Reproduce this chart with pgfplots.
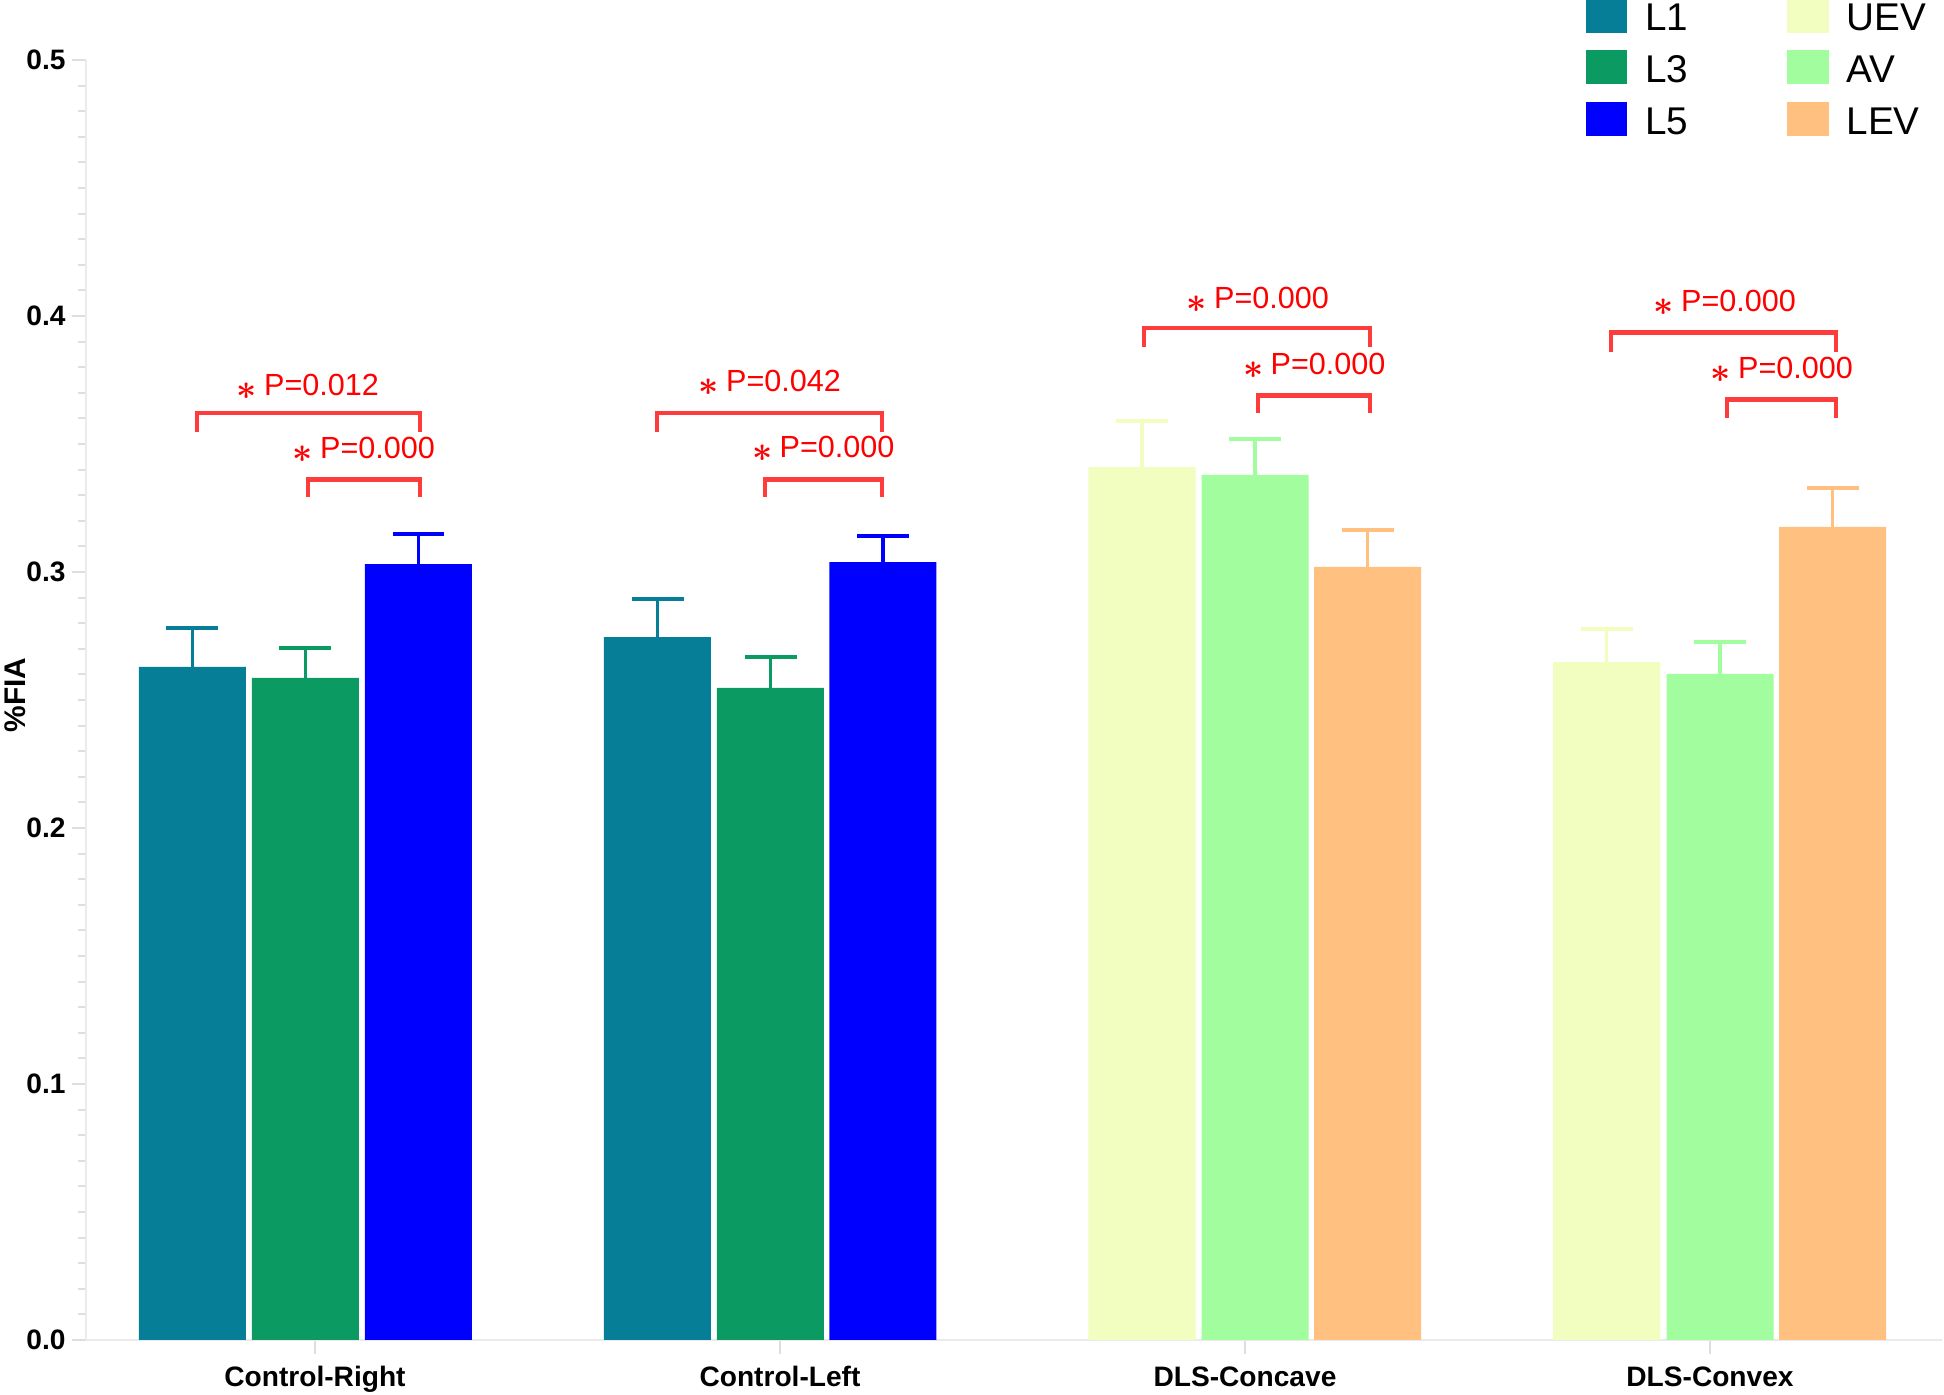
\documentclass[border=0pt]{standalone}
\usepackage{pgfplots}
\pgfplotsset{compat=1.18}
\usepackage{fontspec}
\setmainfont{Liberation Sans}
\definecolor{cLone}{RGB}{7,126,151}
\definecolor{cLthree}{RGB}{10,154,98}
\definecolor{cLfive}{RGB}{0,0,255}
\definecolor{cUEV}{RGB}{242,253,192}
\definecolor{cAV}{RGB}{162,253,158}
\definecolor{cLEV}{RGB}{255,192,128}
\definecolor{axisgray}{RGB}{235,235,235}
\definecolor{tickgray}{RGB}{222,222,222}
\definecolor{brred}{RGB}{255,60,60}
\newcommand{\sig}{\raisebox{-1.2pt}{\fontencoding{OMS}\fontfamily{cmsy}\fontseries{b}\fontshape{n}\fontsize{10}{10}\selectfont\char3}\hspace{2pt}}
\begin{document}
\begin{tikzpicture}
\useasboundingbox (0,0) rectangle (19.44cm,13.95cm);
\begin{axis}[
  at={(0.86cm,0.55cm)}, anchor=south west,
  scale only axis, width=18.56cm, height=12.80cm,
  xmin=86, xmax=1942, ymin=0, ymax=0.5,
  axis x line=bottom, axis y line=left,
  axis line style={-, draw=axisgray, line width=0.8pt},
  tick align=outside,
  major tick length=0.14cm, minor tick length=0.08cm,
  tick style={draw=tickgray, line width=0.6pt},
  xtick={315,780,1245,1710},
  xticklabels={Control-Right,Control-Left,DLS-Concave,DLS-Convex},
  ytick={0,0.1,0.2,0.3,0.4,0.5},
  minor y tick num=9,
  yticklabel={\pgfmathprintnumber[fixed,fixed zerofill,precision=1,assume math mode=true]{\tick}},
  tick label style={font=\bfseries\fontsize{8}{9.6}\selectfont},
  yticklabel style={xshift=0.06cm},
  ylabel={\%FIA},
  ylabel style={at={(axis description cs:-0.0383,0.504)}, anchor=center, font=\bfseries\fontsize{8.5}{10}\selectfont},
  clip=false,
  legend columns=2, legend cell align=left,
  legend style={at={(rel axis cs:0.8077,1.0496)}, anchor=north west, draw=none, fill=none,
    inner sep=0pt, row sep=1.6pt, font=\fontsize{11}{13}\selectfont,
    /tikz/every odd column/.append style={column sep=0.11cm},
    /tikz/every even column/.append style={column sep=0.92cm}},
]
\addplot[ybar, bar width=107, bar shift=0pt, fill=cLone, draw=none, forget plot,
  error bars/.cd, y dir=plus, y explicit, error bar style={line width=1.1pt, color=cLone}, error mark options={rotate=90, line width=1.1pt, mark size=0.26cm, color=cLone}]
  coordinates {(192.5,0.2629) +- (0,0.0152) (657.5,0.2746) +- (0,0.0149)};
\addplot[ybar, bar width=107, bar shift=0pt, fill=cLthree, draw=none, forget plot,
  error bars/.cd, y dir=plus, y explicit, error bar style={line width=1.1pt, color=cLthree}, error mark options={rotate=90, line width=1.1pt, mark size=0.26cm, color=cLthree}]
  coordinates {(305.5,0.2586) +- (0,0.0117) (770.5,0.2547) +- (0,0.0121)};
\addplot[ybar, bar width=107, bar shift=0pt, fill=cLfive, draw=none, forget plot,
  error bars/.cd, y dir=plus, y explicit, error bar style={line width=1.1pt, color=cLfive}, error mark options={rotate=90, line width=1.1pt, mark size=0.26cm, color=cLfive}]
  coordinates {(418.5,0.3031) +- (0,0.0117) (883,0.3039) +- (0,0.0102)};
\addplot[ybar, bar width=107, bar shift=0pt, fill=cUEV, draw=none, forget plot,
  error bars/.cd, y dir=plus, y explicit, error bar style={line width=1.1pt, color=cUEV}, error mark options={rotate=90, line width=1.1pt, mark size=0.26cm, color=cUEV}]
  coordinates {(1142,0.3410) +- (0,0.0180) (1606.5,0.2648) +- (0,0.0129)};
\addplot[ybar, bar width=107, bar shift=0pt, fill=cAV, draw=none, forget plot,
  error bars/.cd, y dir=plus, y explicit, error bar style={line width=1.1pt, color=cAV}, error mark options={rotate=90, line width=1.1pt, mark size=0.26cm, color=cAV}]
  coordinates {(1255,0.3379) +- (0,0.0141) (1720,0.2602) +- (0,0.0125)};
\addplot[ybar, bar width=107, bar shift=0pt, fill=cLEV, draw=none, forget plot,
  error bars/.cd, y dir=plus, y explicit, error bar style={line width=1.1pt, color=cLEV}, error mark options={rotate=90, line width=1.1pt, mark size=0.26cm, color=cLEV}]
  coordinates {(1367.5,0.3020) +- (0,0.0144) (1832.5,0.3176) +- (0,0.0152)};

\addlegendimage{legend image code/.code={\fill[cLone] (0cm,-0.117cm) rectangle (0.40cm,0.213cm);}}
\addlegendentry{L1}
\addlegendimage{legend image code/.code={\fill[cUEV] (0cm,-0.117cm) rectangle (0.40cm,0.213cm);}}
\addlegendentry{UEV}
\addlegendimage{legend image code/.code={\fill[cLthree] (0cm,-0.117cm) rectangle (0.40cm,0.213cm);}}
\addlegendentry{L3}
\addlegendimage{legend image code/.code={\fill[cAV] (0cm,-0.117cm) rectangle (0.40cm,0.213cm);}}
\addlegendentry{AV}
\addlegendimage{legend image code/.code={\fill[cLfive] (0cm,-0.117cm) rectangle (0.40cm,0.213cm);}}
\addlegendentry{L5}
\addlegendimage{legend image code/.code={\fill[cLEV] (0cm,-0.117cm) rectangle (0.40cm,0.213cm);}}
\addlegendentry{LEV}

\addplot[brred, line width=1.4pt, line join=miter, mark=none, forget plot] coordinates {(197,0.3547) (197,0.3621) (420,0.3621) (420,0.3547)};
\addplot[brred, line width=1.4pt, line join=miter, mark=none, forget plot] coordinates {(308,0.3293) (308,0.3363) (420,0.3363) (420,0.3293)};
\addplot[brred, line width=1.4pt, line join=miter, mark=none, forget plot] coordinates {(657,0.3547) (657,0.3621) (882,0.3621) (882,0.3547)};
\addplot[brred, line width=1.4pt, line join=miter, mark=none, forget plot] coordinates {(765,0.3293) (765,0.3363) (882,0.3363) (882,0.3293)};
\addplot[brred, line width=1.4pt, line join=miter, mark=none, forget plot] coordinates {(1144,0.3879) (1144,0.3953) (1370,0.3953) (1370,0.3879)};
\addplot[brred, line width=1.4pt, line join=miter, mark=none, forget plot] coordinates {(1258,0.3621) (1258,0.3691) (1370,0.3691) (1370,0.3621)};
\addplot[brred, line width=1.4pt, line join=miter, mark=none, forget plot] coordinates {(1611,0.3859) (1611,0.3934) (1836,0.3934) (1836,0.3859)};
\addplot[brred, line width=1.4pt, line join=miter, mark=none, forget plot] coordinates {(1727,0.3602) (1727,0.3672) (1836,0.3672) (1836,0.3602)};

\node[text=red, font=\fontsize{8.7}{10.4}\selectfont, inner sep=0pt] at (axis cs:308,0.3723) {\sig P=0.012};
\node[text=red, font=\fontsize{8.7}{10.4}\selectfont, inner sep=0pt] at (axis cs:364,0.3477) {\sig P=0.000};
\node[text=red, font=\fontsize{8.7}{10.4}\selectfont, inner sep=0pt] at (axis cs:770,0.3738) {\sig P=0.042};
\node[text=red, font=\fontsize{8.7}{10.4}\selectfont, inner sep=0pt] at (axis cs:823.5,0.3480) {\sig P=0.000};
\node[text=red, font=\fontsize{8.7}{10.4}\selectfont, inner sep=0pt] at (axis cs:1258,0.4063) {\sig P=0.000};
\node[text=red, font=\fontsize{8.7}{10.4}\selectfont, inner sep=0pt] at (axis cs:1314.5,0.3805) {\sig P=0.000};
\node[text=red, font=\fontsize{8.7}{10.4}\selectfont, inner sep=0pt] at (axis cs:1725,0.4051) {\sig P=0.000};
\node[text=red, font=\fontsize{8.7}{10.4}\selectfont, inner sep=0pt] at (axis cs:1782,0.3789) {\sig P=0.000};
\end{axis}
\end{tikzpicture}
\end{document}
